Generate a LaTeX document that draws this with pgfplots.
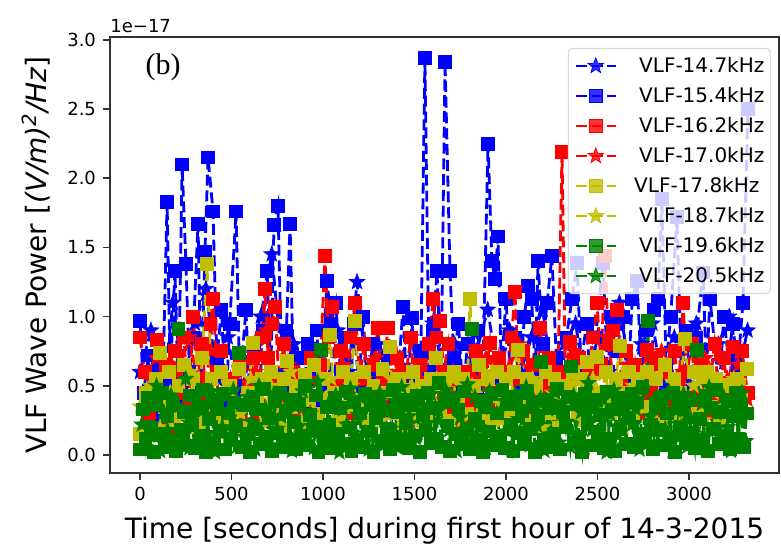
\documentclass[border=0pt]{standalone}
\usepackage{fontspec}
\setmainfont{DejaVu Sans}
\newfontfamily\serifb{Liberation Serif}
\usepackage{pgfplots}
\pgfplotsset{compat=1.18}

\definecolor{mblue}{rgb}{0,0,1}
\definecolor{mred}{rgb}{1,0,0}
\definecolor{myel}{rgb}{0.75,0.75,0}
\definecolor{mgreen}{rgb}{0,0.5,0}

% filled five-pointed star, like matplotlib's '*'
\pgfdeclareplotmark{fstar}{%
  \pgfpathmoveto{\pgfpointpolar{90}{\pgfplotmarksize}}%
  \pgfpathlineto{\pgfpointpolar{126}{0.42\pgfplotmarksize}}%
  \pgfpathlineto{\pgfpointpolar{162}{\pgfplotmarksize}}%
  \pgfpathlineto{\pgfpointpolar{198}{0.42\pgfplotmarksize}}%
  \pgfpathlineto{\pgfpointpolar{234}{\pgfplotmarksize}}%
  \pgfpathlineto{\pgfpointpolar{270}{0.42\pgfplotmarksize}}%
  \pgfpathlineto{\pgfpointpolar{306}{\pgfplotmarksize}}%
  \pgfpathlineto{\pgfpointpolar{342}{0.42\pgfplotmarksize}}%
  \pgfpathlineto{\pgfpointpolar{18}{\pgfplotmarksize}}%
  \pgfpathlineto{\pgfpointpolar{54}{0.42\pgfplotmarksize}}%
  \pgfpathclose
  \pgfusepathqfillstroke}

\pgfplotsset{
  sq/.style={mark=square*, mark size=3.2pt},
  st/.style={mark=fstar, mark size=4pt},
}

\begin{document}
\begin{tikzpicture}
\begin{axis}[
  scale only axis, width=334.5pt, height=218pt,
  xmin=-164, xmax=3492, ymin=-0.13, ymax=3.02,
  xtick={0,500,...,3000}, ytick={0,0.5,...,3.0},
  tick align=outside, major tick length=3.5pt,
  xtick pos=bottom, ytick pos=left,
  axis line style={black!80, line width=0.8pt},
  tick style={black!80, line width=0.8pt},
  ticklabel style={font=\fontsize{9}{10}\selectfont},
  /pgf/number format/assume math mode=true,
  scaled ticks=false,
  xticklabel style={/pgf/number format/1000 sep={}},
  yticklabel style={/pgf/number format/.cd, fixed, fixed zerofill, precision=1},
  every axis plot/.append style={line width=1.4pt, dash pattern=on 5.5pt off 2.4pt,
    mark options={solid, line width=0.4pt}},
  legend cell align=left,
  legend style={at={(0.988,0.975)}, anchor=north east, draw=black!15, line width=0.6pt,
    fill=white, fill opacity=0.8, text opacity=1, draw opacity=1, rounded corners=2pt,
    inner xsep=3pt, inner ysep=3.75pt, row sep=5pt, font=\fontsize{10}{12}\selectfont,
    nodes={inner sep=0pt, text height=8pt, text depth=2pt},
    /tikz/every odd column/.append style={column sep=11pt}},
  legend image code/.code={\draw[mark repeat=2,mark phase=2] plot coordinates {(0pt,0pt)(10pt,0pt)(20pt,0pt)};},
]
% VLF-14.7kHz
\addplot[color=mblue, st] coordinates {
(0,0.60)(60,0.90)(120,0.35)(180,1.10)(240,0.50)(300,0.95)(360,1.20)(420,0.55)(480,0.85)(540,0.40)
(600,0.70)(660,1.00)(720,1.45)(780,0.60)(840,0.80)(900,0.45)(960,0.75)(1020,0.50)(1080,0.90)(1140,0.60)
(1186,1.25)(1240,0.55)(1300,0.80)(1360,0.40)(1420,0.70)(1480,0.85)(1540,0.50)(1600,0.95)(1660,0.60)(1720,0.80)
(1780,0.45)(1840,0.75)(1900,1.05)(1960,0.55)(2020,0.90)(2080,0.60)(2140,0.85)(2200,1.05)(2260,0.50)(2320,0.80)
(2380,0.95)(2440,0.45)(2500,0.85)(2560,0.60)(2620,1.10)(2680,0.55)(2740,0.80)(2800,0.95)(2860,0.50)(2920,0.85)
(2980,0.60)(3040,0.95)(3100,0.55)(3160,0.80)(3220,1.00)(3280,0.65)(3320,0.90)};
% VLF-15.4kHz
\addplot[color=mblue, sq] coordinates {
(0,0.97)(20,0.45)(45,0.72)(70,0.30)(95,0.62)(120,0.25)(148,1.83)(165,0.55)(191,1.33)(210,0.40)
(230,2.10)(251,1.38)(270,0.60)(290,0.85)(317,1.67)(335,0.45)(355,1.47)(372,2.15)(399,1.76)(420,0.70)
(445,1.05)(470,0.35)(490,0.95)(525,1.76)(545,0.50)(579,1.05)(600,0.40)(625,0.80)(650,0.30)(670,0.90)
(694,1.33)(715,0.60)(732,1.66)(754,1.80)(775,0.55)(800,0.90)(820,1.67)(840,0.45)(865,0.70)(890,0.30)
(915,0.80)(940,0.55)(965,0.90)(990,0.40)(1022,1.26)(1045,0.95)(1070,1.10)(1095,0.60)(1120,0.85)(1145,0.35)
(1170,0.95)(1195,0.50)(1220,1.00)(1245,0.40)(1270,0.80)(1300,0.60)(1330,0.45)(1355,0.70)(1380,0.30)(1410,0.55)
(1437,1.07)(1460,0.40)(1486,0.99)(1510,0.50)(1535,0.75)(1557,2.87)(1580,0.60)(1601,0.90)(1623,1.33)(1645,0.55)
(1667,2.84)(1694,1.33)(1715,0.70)(1740,0.95)(1765,0.45)(1790,0.80)(1820,0.55)(1845,0.90)(1870,0.40)(1902,2.25)
(1923,1.40)(1940,1.27)(1956,1.58)(1975,0.60)(2000,1.13)(2025,0.55)(2049,0.85)(2075,0.45)(2100,1.00)(2120,1.22)
(2140,1.13)(2160,0.60)(2175,1.40)(2200,0.80)(2225,1.10)(2251,1.44)(2275,0.70)(2300,0.50)(2330,0.85)(2361,1.13)
(2388,1.39)(2410,0.65)(2440,0.95)(2465,0.45)(2490,0.85)(2530,1.39)(2555,0.60)(2580,1.00)(2610,0.75)(2640,1.00)
(2665,0.45)(2690,1.13)(2716,1.26)(2740,0.60)(2765,0.90)(2790,0.50)(2810,1.05)(2831,1.13)(2852,1.85)(2875,0.65)
(2900,1.00)(2934,1.72)(2960,0.55)(2985,0.90)(3010,0.45)(3040,0.85)(3077,1.32)(3095,0.60)(3115,1.13)(3140,0.80)
(3165,0.45)(3190,1.00)(3215,0.70)(3240,0.95)(3265,0.60)(3295,1.10)(3322,2.50)};
% VLF-16.2kHz
\addplot[color=mred, sq] coordinates {
(0,0.85)(25,0.60)(50,0.30)(75,0.55)(93,0.83)(115,0.40)(140,0.65)(165,0.20)(190,0.75)(215,0.45)
(240,0.85)(265,0.35)(290,1.00)(315,0.55)(340,0.80)(365,0.30)(385,0.95)(399,1.13)(420,0.60)(445,0.75)
(470,0.25)(495,0.55)(520,0.35)(545,0.65)(570,0.20)(595,0.50)(620,0.70)(645,0.30)(665,0.85)(683,1.20)
(700,0.70)(720,0.95)(738,1.07)(760,0.50)(785,0.80)(810,0.35)(835,0.60)(860,0.25)(885,0.55)(910,0.40)
(935,0.70)(960,0.30)(985,0.65)(1011,1.44)(1030,0.85)(1050,1.07)(1075,0.50)(1100,0.75)(1125,0.30)(1150,0.85)
(1175,1.10)(1200,0.55)(1225,0.80)(1250,0.40)(1275,0.65)(1300,0.92)(1325,0.55)(1355,0.92)(1380,0.45)(1405,0.70)
(1430,0.30)(1455,0.60)(1480,0.85)(1505,0.35)(1530,0.65)(1555,0.45)(1580,0.80)(1601,1.13)(1620,0.85)(1639,0.97)
(1660,0.60)(1685,0.80)(1710,0.35)(1735,0.55)(1760,0.25)(1785,0.60)(1810,0.40)(1835,0.75)(1860,0.30)(1885,0.55)
(1912,0.81)(1935,0.45)(1960,0.70)(1985,0.35)(2010,0.60)(2030,0.85)(2049,1.18)(2070,0.55)(2095,0.75)(2120,0.40)
(2145,0.65)(2165,0.35)(2186,0.92)(2210,0.50)(2235,0.70)(2260,0.30)(2285,0.60)(2306,2.19)(2325,0.55)(2350,0.82)
(2375,0.40)(2400,0.70)(2425,0.35)(2450,0.60)(2475,0.85)(2497,1.10)(2520,0.65)(2541,1.44)(2560,0.80)(2585,0.90)
(2606,1.05)(2630,0.55)(2655,0.75)(2680,0.40)(2705,0.65)(2730,0.35)(2750,0.60)(2770,0.76)(2795,0.45)(2820,0.70)
(2845,0.30)(2870,0.60)(2895,0.40)(2920,0.75)(2945,0.50)(2967,1.10)(2990,0.60)(3015,0.80)(3040,0.35)(3065,0.65)
(3090,0.30)(3115,0.55)(3140,0.80)(3165,0.40)(3190,0.70)(3215,0.45)(3240,0.78)(3265,0.50)(3290,0.75)(3320,0.45)};
% VLF-17.0kHz
\addplot[color=mred, st] coordinates {
(30,0.45)(90,0.70)(150,0.30)(210,0.60)(270,0.85)(330,0.40)(390,0.75)(450,0.30)(510,0.55)(570,0.25)
(630,0.60)(690,0.90)(750,0.45)(810,0.65)(870,0.30)(930,0.55)(990,0.75)(1050,0.40)(1110,0.65)(1170,0.30)
(1230,0.55)(1290,0.70)(1350,0.35)(1410,0.60)(1470,0.25)(1530,0.55)(1590,0.80)(1650,0.40)(1710,0.60)(1770,0.30)
(1830,0.55)(1890,0.70)(1950,0.35)(2010,0.60)(2070,0.80)(2130,0.40)(2190,0.65)(2250,0.30)(2310,0.55)(2370,0.75)
(2430,0.35)(2490,0.60)(2550,0.85)(2610,0.40)(2670,0.65)(2730,0.30)(2790,0.55)(2850,0.75)(2910,0.35)(2970,0.60)
(3030,0.45)(3090,0.70)(3150,0.30)(3210,0.55)(3270,0.65)(3320,0.40)};
% VLF-17.8kHz
\addplot[color=myel, sq] coordinates {
(0,0.15)(30,0.45)(60,0.20)(85,0.55)(109,0.74)(135,0.35)(160,0.60)(185,0.25)(210,0.50)(240,0.65)
(265,0.30)(290,0.55)(315,0.20)(340,0.70)(366,1.38)(390,0.55)(415,0.30)(440,0.60)(465,0.25)(490,0.50)
(515,0.35)(540,0.62)(565,0.20)(590,0.45)(617,0.81)(640,0.40)(665,0.55)(690,0.30)(715,0.60)(740,0.45)
(765,0.20)(785,0.55)(803,0.68)(825,0.35)(850,0.50)(875,0.20)(900,0.58)(925,0.40)(950,0.65)(975,0.30)
(1000,0.55)(1020,0.40)(1038,0.87)(1060,0.45)(1085,0.25)(1110,0.60)(1135,0.35)(1155,0.55)(1175,0.97)(1200,0.40)
(1225,0.60)(1250,0.25)(1275,0.50)(1300,0.35)(1325,0.62)(1345,0.45)(1366,0.78)(1390,0.30)(1415,0.55)(1440,0.20)
(1465,0.45)(1490,0.60)(1515,0.30)(1540,0.50)(1565,0.25)(1590,0.55)(1615,0.70)(1640,0.35)(1665,0.55)(1690,0.25)
(1715,0.60)(1740,0.40)(1765,0.55)(1785,0.30)(1803,1.13)(1825,0.50)(1850,0.65)(1875,0.30)(1900,0.55)(1925,0.25)
(1950,0.60)(1975,0.40)(2000,0.55)(2025,0.30)(2045,0.60)(2066,0.76)(2090,0.40)(2115,0.55)(2140,0.25)(2165,0.50)
(2190,0.35)(2215,0.60)(2240,0.30)(2265,0.55)(2290,0.20)(2315,0.50)(2340,0.40)(2365,0.60)(2390,0.30)(2415,0.55)
(2443,0.67)(2470,0.45)(2497,0.71)(2520,0.40)(2545,0.60)(2570,0.30)(2600,0.55)(2623,0.79)(2645,0.45)(2670,0.60)
(2695,0.30)(2720,0.55)(2745,0.35)(2770,0.60)(2795,0.25)(2820,0.55)(2845,0.40)(2870,0.65)(2895,0.30)(2920,0.55)
(2950,0.45)(2978,0.84)(3000,0.40)(3025,0.60)(3050,0.30)(3075,0.55)(3098,0.60)(3120,0.35)(3145,0.55)(3170,0.25)
(3190,0.50)(3213,0.51)(3235,0.30)(3260,0.55)(3285,0.40)(3317,0.62)};
% VLF-18.7kHz
\addplot[color=myel, st] coordinates {
(0,0.35)(55,0.50)(110,0.20)(165,0.45)(220,0.30)(275,0.60)(330,0.25)(385,0.50)(440,0.15)(495,0.45)
(550,0.30)(605,0.55)(660,0.20)(715,0.50)(770,0.35)(825,0.60)(880,0.25)(935,0.45)(990,0.30)(1045,0.55)
(1100,0.20)(1155,0.50)(1210,0.35)(1265,0.45)(1320,0.25)(1375,0.55)(1430,0.30)(1485,0.50)(1540,0.20)(1595,0.45)
(1650,0.35)(1705,0.55)(1760,0.25)(1815,0.50)(1870,0.30)(1925,0.60)(1980,0.25)(2035,0.45)(2090,0.35)(2145,0.55)
(2200,0.20)(2255,0.45)(2310,0.30)(2365,0.50)(2420,0.25)(2475,0.55)(2530,0.30)(2585,0.45)(2640,0.20)(2695,0.50)
(2750,0.35)(2805,0.55)(2860,0.25)(2915,0.45)(2970,0.30)(3025,0.50)(3080,0.25)(3135,0.45)(3190,0.35)(3245,0.55)
(3300,0.30)};
% VLF-19.6kHz
\addplot[color=mgreen, sq] coordinates {
(0,0.04)(15,0.33)(30,0.12)(45,0.41)(60,0.20)(75,0.02)(90,0.36)(105,0.15)(120,0.45)(135,0.06)
(150,0.28)(165,0.10)(180,0.38)(195,0.03)(210,0.91)(225,0.18)(240,0.31)(255,0.07)(270,0.43)(285,0.22)
(300,0.05)(315,0.35)(330,0.14)(345,0.47)(360,0.02)(375,0.26)(390,0.40)(405,0.09)(420,0.33)(435,0.17)
(450,0.44)(465,0.04)(480,0.30)(495,0.12)(510,0.38)(525,0.21)(540,0.74)(555,0.06)(570,0.36)(585,0.15)
(600,0.02)(615,0.42)(630,0.19)(645,0.33)(660,0.08)(675,0.48)(690,0.13)(705,0.27)(720,0.03)(735,0.39)
(750,0.16)(765,0.45)(780,0.06)(795,0.32)(810,0.11)(825,0.40)(840,0.24)(855,0.04)(870,0.37)(885,0.14)
(900,0.50)(915,0.07)(930,0.29)(945,0.18)(960,0.43)(975,0.02)(990,0.76)(1005,0.12)(1020,0.35)(1035,0.22)
(1050,0.05)(1065,0.41)(1080,0.15)(1095,0.34)(1110,0.08)(1125,0.46)(1140,0.20)(1155,0.03)(1170,0.38)(1185,0.11)
(1200,0.30)(1215,0.06)(1230,0.44)(1245,0.17)(1260,0.36)(1275,0.02)(1290,0.27)(1305,0.42)(1320,0.10)(1335,0.33)
(1350,0.19)(1365,0.04)(1380,0.47)(1395,0.13)(1410,0.31)(1425,0.07)(1440,0.40)(1455,0.23)(1470,0.05)(1485,0.36)
(1500,0.14)(1515,0.43)(1530,0.02)(1545,0.29)(1560,0.18)(1575,0.45)(1590,0.09)(1605,0.34)(1620,0.12)(1635,0.52)
(1650,0.06)(1665,0.38)(1680,0.21)(1695,0.03)(1710,0.41)(1725,0.15)(1740,0.33)(1755,0.08)(1770,0.46)(1785,0.19)
(1800,0.04)(1815,0.91)(1830,0.26)(1845,0.11)(1860,0.39)(1875,0.02)(1890,0.35)(1905,0.17)(1920,0.44)(1935,0.07)
(1950,0.30)(1965,0.13)(1980,0.47)(1995,0.05)(2010,0.37)(2025,0.22)(2040,0.03)(2055,0.42)(2070,0.16)(2085,0.32)
(2100,0.08)(2115,0.45)(2130,0.19)(2145,0.36)(2160,0.02)(2175,0.28)(2190,0.67)(2205,0.11)(2220,0.40)(2235,0.06)
(2250,0.34)(2265,0.15)(2280,0.48)(2295,0.04)(2310,0.31)(2325,0.20)(2340,0.42)(2355,0.64)(2370,0.09)(2385,0.37)
(2400,0.13)(2415,0.02)(2430,0.44)(2445,0.23)(2460,0.35)(2475,0.07)(2490,0.40)(2505,0.17)(2520,0.29)(2535,0.05)
(2550,0.46)(2565,0.12)(2580,0.33)(2595,0.03)(2610,0.41)(2625,0.19)(2640,0.36)(2655,0.08)(2670,0.27)(2685,0.44)
(2700,0.06)(2715,0.38)(2730,0.15)(2745,0.49)(2760,0.10)(2775,0.97)(2790,0.22)(2805,0.04)(2820,0.35)(2835,0.18)
(2850,0.42)(2865,0.07)(2880,0.30)(2895,0.13)(2910,0.45)(2925,0.02)(2940,0.37)(2955,0.20)(2970,0.33)(2985,0.09)
(3000,0.40)(3015,0.16)(3030,0.05)(3045,0.76)(3060,0.26)(3075,0.11)(3090,0.43)(3105,0.03)(3120,0.34)(3135,0.19)
(3150,0.47)(3165,0.08)(3180,0.31)(3195,0.14)(3210,0.39)(3225,0.04)(3240,0.28)(3255,0.45)(3270,0.12)(3285,0.36)
(3300,0.06)(3315,0.30)};
% VLF-20.5kHz
\addplot[color=mgreen, st] coordinates {
(10,0.22)(30,0.06)(50,0.39)(70,0.14)(90,0.50)(110,0.03)(130,0.31)(150,0.18)(170,0.43)(190,0.09)
(210,0.35)(230,0.12)(250,0.55)(270,0.05)(290,0.27)(310,0.41)(330,0.08)(350,0.33)(370,0.16)(390,0.46)
(410,0.02)(430,0.38)(450,0.20)(470,0.29)(490,0.11)(510,0.47)(530,0.06)(550,0.36)(570,0.13)(590,0.42)
(610,0.24)(630,0.04)(650,0.50)(670,0.15)(690,0.32)(710,0.07)(730,0.44)(750,0.19)(770,0.28)(790,0.10)
(810,0.40)(830,0.03)(850,0.35)(870,0.21)(890,0.46)(910,0.12)(930,0.30)(950,0.05)(970,0.53)(990,0.17)
(1010,0.08)(1030,0.37)(1050,0.14)(1070,0.43)(1090,0.02)(1110,0.33)(1130,0.22)(1150,0.48)(1170,0.09)(1190,0.29)
(1210,0.41)(1230,0.16)(1250,0.04)(1270,0.36)(1290,0.12)(1310,0.45)(1330,0.07)(1350,0.31)(1370,0.19)(1390,0.39)
(1410,0.05)(1430,0.49)(1450,0.14)(1470,0.28)(1490,0.10)(1510,0.42)(1530,0.02)(1550,0.35)(1570,0.23)(1590,0.44)
(1610,0.11)(1630,0.32)(1650,0.06)(1670,0.47)(1690,0.18)(1710,0.38)(1730,0.03)(1750,0.27)(1770,0.15)(1790,0.51)
(1810,0.09)(1830,0.42)(1850,0.20)(1870,0.34)(1890,0.05)(1910,0.46)(1930,0.13)(1950,0.30)(1970,0.08)(1990,0.39)
(2010,0.17)(2030,0.04)(2050,0.44)(2070,0.26)(2090,0.12)(2110,0.49)(2130,0.07)(2150,0.36)(2170,0.21)(2190,0.41)
(2210,0.03)(2230,0.33)(2250,0.15)(2270,0.45)(2290,0.09)(2310,0.38)(2330,0.24)(2350,0.06)(2370,0.43)(2390,0.12)
(2410,0.31)(2430,0.05)(2450,0.52)(2470,0.18)(2490,0.35)(2510,0.10)(2530,0.40)(2550,0.02)(2570,0.29)(2590,0.47)
(2610,0.14)(2630,0.37)(2650,0.07)(2670,0.43)(2690,0.22)(2710,0.33)(2730,0.04)(2750,0.48)(2770,0.16)(2790,0.28)
(2810,0.40)(2830,0.09)(2850,0.35)(2870,0.19)(2890,0.46)(2910,0.03)(2930,0.32)(2950,0.13)(2970,0.44)(2990,0.06)
(3010,0.26)(3030,0.41)(3050,0.11)(3070,0.37)(3090,0.05)(3110,0.49)(3130,0.17)(3150,0.30)(3170,0.08)(3190,0.42)
(3210,0.20)(3230,0.03)(3250,0.36)(3270,0.14)(3290,0.45)(3310,0.10)};
\legend{VLF-14.7kHz,VLF-15.4kHz,VLF-16.2kHz,VLF-17.0kHz,\hspace*{-2.5pt}VLF-17.8kHz,VLF-18.7kHz,VLF-19.6kHz,VLF-20.5kHz}
\end{axis}
\node[anchor=base west, font=\fontsize{9}{10}\selectfont, inner sep=0pt] at (0pt,220.5pt) {1e−17};
\node[font=\serifb\fontsize{15}{17}\selectfont] at (26.5pt,203pt) {(b)};
\node[anchor=base, font=\fontsize{14}{16}\selectfont, inner sep=0pt] at (167.25pt,-32.5pt) {Time [seconds] during first hour of 14-3-2015};
\node[rotate=90, anchor=base, font=\fontsize{14}{16}\selectfont, inner sep=0pt] at (-31.5pt,109pt) {VLF Wave Power [\textit{(V/m)\textsuperscript{2}/Hz}]};
\path (-55pt,-35pt) rectangle (335.5pt,236.5pt);
\end{tikzpicture}
\end{document}
